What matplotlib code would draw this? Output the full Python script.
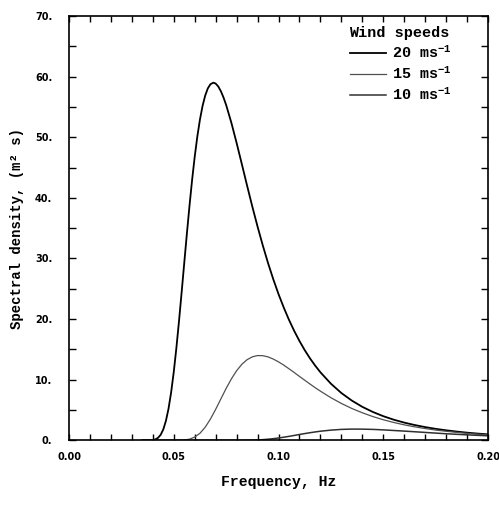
import matplotlib.pyplot as plt
from matplotlib.ticker import MultipleLocator, FormatStrFormatter

# frequencies (Hz) and spectral densities
# 20 m/s curve is steep, so it got its own, finer frequency list
freq20 = [0.035, 0.0375, 0.04, 0.04125, 0.0425, 0.04375, 0.045, 0.04625, 0.0475, 0.04875,
          0.05, 0.05125, 0.0525, 0.05375, 0.055, 0.05625, 0.0575, 0.05875, 0.06, 0.06125,
          0.0625, 0.06375, 0.065, 0.06625, 0.0675, 0.0689, 0.07, 0.07125, 0.0725, 0.07375,
          0.075, 0.0775, 0.08, 0.0825, 0.085, 0.0875, 0.09, 0.0925, 0.095, 0.0975,
          0.1, 0.1025, 0.105, 0.1075, 0.11, 0.1125, 0.115, 0.1175, 0.12, 0.125,
          0.13, 0.135, 0.14, 0.145, 0.15, 0.155, 0.16, 0.165, 0.17, 0.175,
          0.18, 0.185, 0.19, 0.195, 0.2]

s20 = [0.0, 0.0, 0.05, 0.16, 0.41, 0.91, 1.80, 3.20, 5.22, 7.92,
       11.28, 15.24, 19.66, 24.39, 29.24, 34.05, 38.66, 42.94, 46.78, 50.12,
       52.92, 55.17, 56.87, 58.05, 58.74, 59.00, 58.85, 58.37, 57.58, 56.55,
       55.32, 52.38, 49.05, 45.55, 42.01, 38.55, 35.25, 32.14, 29.24, 26.57,
       24.12, 21.90, 19.87, 18.04, 16.38, 14.88, 13.53, 12.32, 11.22, 9.34,
       7.80, 6.55, 5.52, 4.68, 3.98, 3.40, 2.92, 2.52, 2.18, 1.89,
       1.65, 1.44, 1.26, 1.11, 0.98]

freq = [0.035, 0.0375, 0.04, 0.0425, 0.045, 0.0475, 0.05, 0.0525, 0.055, 0.0575,
        0.06, 0.0625, 0.065, 0.0675, 0.07, 0.0725, 0.075, 0.0775, 0.08, 0.0825,
        0.085, 0.0875, 0.09, 0.0925, 0.095, 0.0975, 0.1, 0.1025, 0.105, 0.1075,
        0.11, 0.1125, 0.115, 0.1175, 0.12, 0.125, 0.13, 0.135, 0.14, 0.145,
        0.15, 0.155, 0.16, 0.165, 0.17, 0.175, 0.18, 0.185, 0.19, 0.195, 0.2]

s15 = [0.0, 0.0, 0.0, 0.0, 0.0, 0.0, 0.0, 0.0, 0.05, 0.19,
       0.53, 1.16, 2.16, 3.50, 5.11, 6.84, 8.56, 10.13, 11.48, 12.54,
       13.30, 13.77, 13.98, 13.96, 13.76, 13.40, 12.94, 12.40, 11.80, 11.18,
       10.54, 9.91, 9.29, 8.68, 8.11, 7.03, 6.08, 5.25, 4.54, 3.92,
       3.39, 2.94, 2.55, 2.22, 1.94, 1.69, 1.49, 1.31, 1.15, 1.02, 0.90]

s10 = [0.0, 0.0, 0.0, 0.0, 0.0, 0.0, 0.0, 0.0, 0.0, 0.0,
       0.0, 0.0, 0.0, 0.0, 0.0, 0.0, 0.0, 0.0, 0.0, 0.0,
       0.02, 0.03, 0.06, 0.11, 0.18, 0.27, 0.38, 0.51, 0.65, 0.80,
       0.96, 1.11, 1.25, 1.38, 1.50, 1.68, 1.80, 1.85, 1.84, 1.80,
       1.72, 1.62, 1.52, 1.41, 1.30, 1.19, 1.08, 0.99, 0.90, 0.82, 0.74]

rotulos = [r'20 ms$^{-1}$', r'15 ms$^{-1}$', r'10 ms$^{-1}$']

fonte = ['Liberation Mono', 'DejaVu Sans Mono']
plt.rcParams['mathtext.fontset'] = 'custom'
plt.rcParams['mathtext.rm'] = 'Liberation Mono:bold'
plt.rcParams['mathtext.it'] = 'Liberation Mono:bold'
plt.rcParams['mathtext.bf'] = 'Liberation Mono:bold'

fig = plt.figure(figsize=(4.99, 5.31), dpi=100)
ax = fig.add_axes([0.1383, 0.1708, 0.8397, 0.7991])

ax.plot(freq20, s20, color='black', lw=1.3, label=rotulos[0])
ax.plot(freq, s15, color='#505050', lw=0.9, label=rotulos[1])
ax.plot(freq, s10, color='#303030', lw=1.1, label=rotulos[2])

ax.set_xlim(0, 0.2)
ax.set_ylim(0, 70)

ax.xaxis.set_major_locator(MultipleLocator(0.05))
ax.xaxis.set_minor_locator(MultipleLocator(0.01))
ax.yaxis.set_major_locator(MultipleLocator(10))
ax.yaxis.set_minor_locator(MultipleLocator(5))
ax.xaxis.set_major_formatter(FormatStrFormatter('%.2f'))
ax.yaxis.set_major_formatter(FormatStrFormatter('%d.'))

ax.tick_params(axis='both', which='both', direction='in', top=True, right=True,
               width=1.0, labelsize=7)
ax.tick_params(axis='x', which='both', length=4.5, pad=8.5)
ax.tick_params(axis='y', which='both', length=5, pad=12)
for lab in ax.get_xticklabels() + ax.get_yticklabels():
    lab.set_fontweight('bold')

for sp in ax.spines.values():
    sp.set_linewidth(1.2)

ax.set_xlabel('Frequency, Hz', family=fonte, fontweight='bold', fontsize=10.6, labelpad=9)
ax.set_ylabel('Spectral density, (m² s)', family=fonte, fontweight='bold', fontsize=10,
              labelpad=8)

leg = ax.legend(loc='upper left', bbox_to_anchor=(0.655, 0.991), frameon=False,
                title='Wind speeds', alignment='left', handlelength=2.4,
                handletextpad=0.4, labelspacing=0.3, borderaxespad=0,
                prop={'family': fonte, 'weight': 'bold', 'size': 10.9})
leg.get_title().set_fontfamily(fonte)
leg.get_title().set_fontweight('bold')
leg.get_title().set_fontsize(10.9)

fig.savefig('out.png', dpi=100)
